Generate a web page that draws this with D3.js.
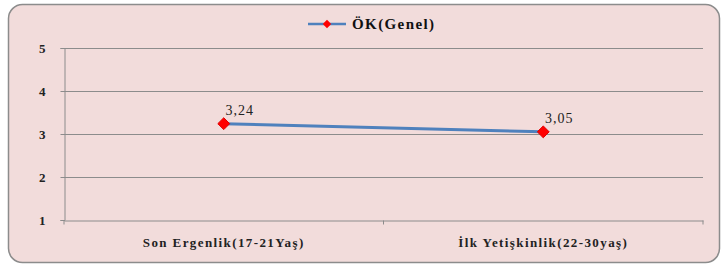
<!DOCTYPE html>
<html>
<head>
<meta charset="utf-8">
<script src="https://cdn.jsdelivr.net/npm/d3@7"></script>
<style>
body { margin: 0; background: #fff; }
</style>
</head>
<body>
<div id="chart"></div>
<script>
// chart data
const categories = ["Son Ergenlik(17-21Yaş)", "İlk Yetişkinlik(22-30yaş)"];
const values = [3.24, 3.05];
const valueLabels = ["3,24", "3,05"];
const yTicks = [1, 2, 3, 4, 5];
const seriesName = "ÖK(Genel)";

const FONT = '"Liberation Serif", "Times New Roman", "DejaVu Serif", serif';

const W = 723, H = 266;
const margin = { top: 48, right: 20, bottom: 46, left: 64 },
    width = 703 - margin.left,
    height = 220 - margin.top;

const svg = d3.select("#chart")
    .append("svg")
    .attr("width", W)
    .attr("height", H);

// background panel
svg.append("rect")
    .attr("x", 8.5).attr("y", 4.5)
    .attr("width", 711).attr("height", 258)
    .attr("rx", 14).attr("ry", 14)
    .style("fill", "#f2dcdb")
    .style("stroke", "#8c8c8c")
    .style("stroke-width", 1.5);

const g = svg.append("g")
    .attr("transform", `translate(${margin.left}, ${margin.top})`);

const x = d3.scaleBand()
    .domain(categories)
    .range([0, width]);

const y = d3.scaleLinear()
    .domain([1, 5])
    .range([height, 0]);

// gridlines
g.append("g")
    .selectAll("line")
    .data(yTicks.slice(1))
    .join("line")
    .attr("x1", 0).attr("x2", width)
    .attr("y1", d => Math.round(y(d)) + 0.5)
    .attr("y2", d => Math.round(y(d)) + 0.5)
    .style("stroke", "#8c8c8c")
    .style("stroke-width", 1);

// y axis
const yAxis = g.append("g")
    .attr("transform", "translate(0.5,0)")
    .call(d3.axisLeft(y).tickValues(yTicks).tickSize(4).tickPadding(15).tickFormat(d3.format("d")));
yAxis.select(".domain").style("stroke", "#8c8c8c");
yAxis.selectAll(".tick line").style("stroke", "#8c8c8c");
yAxis.selectAll("text")
    .style("font-family", FONT)
    .style("font-size", "13px")
    .style("font-weight", "bold")
    .style("fill", "#222");

// x axis
const xAxis = g.append("g")
    .attr("transform", `translate(0, ${Math.round(height) + 0.5})`)
    .call(d3.axisBottom(x).tickSize(0).tickPadding(17));
xAxis.select(".domain").style("stroke", "#8c8c8c");
xAxis.selectAll("text")
    .style("font-family", FONT)
    .style("font-size", "13px")
    .style("letter-spacing", "1.4px")
    .style("font-weight", "bold")
    .style("fill", "#222");
// category separators
xAxis.append("g")
    .selectAll("line")
    .data([0, width / 2, width])
    .join("line")
    .attr("x1", d => d).attr("x2", d => d)
    .attr("y1", 0).attr("y2", 4)
    .style("stroke", "#8c8c8c");

// series line
const line = d3.line()
    .x((d, i) => x(categories[i]) + x.bandwidth() / 2)
    .y(d => y(d));

g.append("path")
    .datum(values)
    .attr("d", line)
    .style("fill", "none")
    .style("stroke", "#4f81bd")
    .style("stroke-width", 3);

const diamond = d3.symbol().type(d3.symbolDiamond2).size(90);

g.selectAll(".pt")
    .data(values)
    .join("path")
    .attr("class", "pt")
    .attr("transform", (d, i) => `translate(${x(categories[i]) + x.bandwidth() / 2}, ${y(d)})`)
    .attr("d", diamond)
    .style("fill", "#ff0000")
    .style("stroke", "#e00000");

g.selectAll(".lbl")
    .data(values)
    .join("text")
    .attr("class", "lbl")
    .attr("x", (d, i) => x(categories[i]) + x.bandwidth() / 2 + 16)
    .attr("y", d => y(d) - 9)
    .attr("text-anchor", "middle")
    .style("font-family", FONT)
    .style("font-size", "14px")
    .style("letter-spacing", "1px")
    .style("fill", "#222")
    .text((d, i) => valueLabels[i]);

// legend
const legend = svg.append("g").attr("transform", "translate(308, 24)");
legend.append("line")
    .attr("x1", 0).attr("x2", 38)
    .attr("y1", 0).attr("y2", 0)
    .style("stroke", "#4f81bd")
    .style("stroke-width", 2.5);
legend.append("path")
    .attr("transform", "translate(19,0)")
    .attr("d", d3.symbol().type(d3.symbolDiamond2).size(45))
    .style("fill", "#ff0000");
legend.append("text")
    .attr("x", 44).attr("y", 5)
    .style("font-family", FONT)
    .style("font-size", "15px")
    .style("letter-spacing", "1.4px")
    .style("font-weight", "bold")
    .style("fill", "#111")
    .text(seriesName);
</script>
</body>
</html>
